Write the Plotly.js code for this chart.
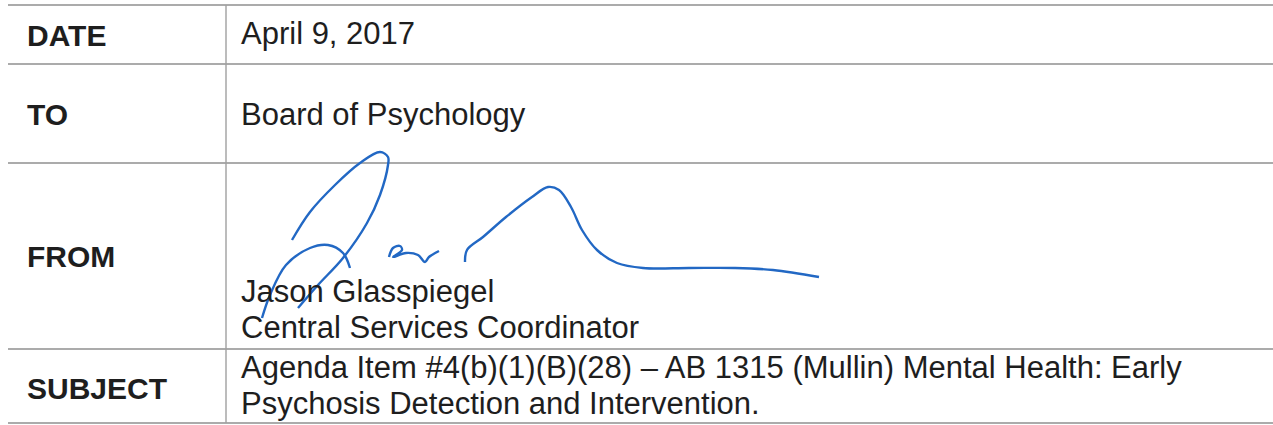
<!DOCTYPE html>
<html>
<head>
<meta charset="utf-8">
<script src="https://cdn.plot.ly/plotly-3.0.1.min.js"></script>
<style>
  html, body { margin: 0; padding: 0; background: #ffffff; }
  #chart { width: 1273px; height: 425px; }
</style>
</head>
<body>
<div id="chart"></div>
<script>
// ---- Memo content ----
const rowLabels = ["DATE", "TO", "FROM", "SUBJECT"];
const rowValues = [
  ["April 9, 2017"],
  ["Board of Psychology"],
  ["Jason Glasspiegel", "Central Services Coordinator"],
  ["Agenda Item #4(b)(1)(B)(28) – AB 1315 (Mullin) Mental Health: Early",
   "Psychosis Detection and Intervention."]
];

// ---- Signature strokes (page pixel coordinates) ----
const sigUpperX = [292, 310, 335, 360, 380, 388, 388, 380, 367, 343, 318, 298];
const sigUpperY = [240, 212, 185, 163, 152, 157, 165, 195, 223, 258, 285, 308];
const sigLoopX  = [262, 270, 286, 310, 328, 343, 350];
const sigLoopY  = [318, 295, 265, 248, 245, 253, 268];
const sigSmallX = [389, 393, 400, 402, 393, 406, 418, 425, 429, 439];
const sigSmallY = [257, 248, 246, 250, 257, 253, 255, 262, 257, 251];
const sigArcX   = [465, 467, 483, 506, 532, 548, 559, 571, 582, 597, 617, 643, 689, 735, 773, 819];
const sigArcY   = [262, 250, 237, 217, 197, 187, 190, 207, 230, 250, 263, 268, 268, 268, 270, 277];

// ---- Layout geometry ----
const W = 1273, H = 425;
const hLines = [5, 64, 163, 349, 423];
const colDivider = 226;
const labelX = 26, valueX = 240;
const labelCY = [35, 114, 256, 388];
const valueCY = [[33], [114], [291, 327], [367, 403]];

const sigColor = "#2268c4";
const strokes = [[sigUpperX, sigUpperY], [sigLoopX, sigLoopY], [sigSmallX, sigSmallY], [sigArcX, sigArcY]];
const traces = strokes.map(s => ({
  type: "scatter", mode: "lines", x: s[0], y: s[1],
  line: { color: sigColor, width: 2.4, shape: "spline", smoothing: 1 },
  hoverinfo: "skip", showlegend: false
}));

const shapes = [];
hLines.forEach(y => shapes.push({
  type: "line", xref: "x", yref: "y", x0: 8, x1: W, y0: y, y1: y,
  line: { color: "#8f8f8f", width: 1.6 }, layer: "below"
}));
shapes.push({
  type: "line", xref: "x", yref: "y", x0: colDivider, x1: colDivider, y0: hLines[0], y1: hLines[hLines.length - 1],
  line: { color: "#a0a0a0", width: 1.4 }, layer: "below"
});

const annotations = [];
rowLabels.forEach((lab, i) => {
  annotations.push({
    x: labelX, y: labelCY[i], xref: "x", yref: "y", text: "<b>" + lab + "</b>",
    showarrow: false, xanchor: "left", yanchor: "middle", borderpad: 0,
    font: { family: "Liberation Sans, Arial, sans-serif", size: 30, color: "#1e1e1e" }
  });
  rowValues[i].forEach((line, j) => {
    annotations.push({
      x: valueX, y: valueCY[i][j], xref: "x", yref: "y", text: line,
      showarrow: false, xanchor: "left", yanchor: "middle", borderpad: 0,
      font: { family: "Liberation Sans, Arial, sans-serif", size: 31, color: "#1e1e1e" }
    });
  });
});

const layout = {
  width: W, height: H,
  margin: { l: 0, r: 0, t: 0, b: 0, pad: 0 },
  paper_bgcolor: "#ffffff", plot_bgcolor: "#ffffff",
  xaxis: { range: [0, W], visible: false, fixedrange: true },
  yaxis: { range: [H, 0], visible: false, fixedrange: true },
  shapes: shapes,
  annotations: annotations,
  showlegend: false
};

Plotly.newPlot("chart", traces, layout, { displayModeBar: false, staticPlot: true });
</script>
</body>
</html>
